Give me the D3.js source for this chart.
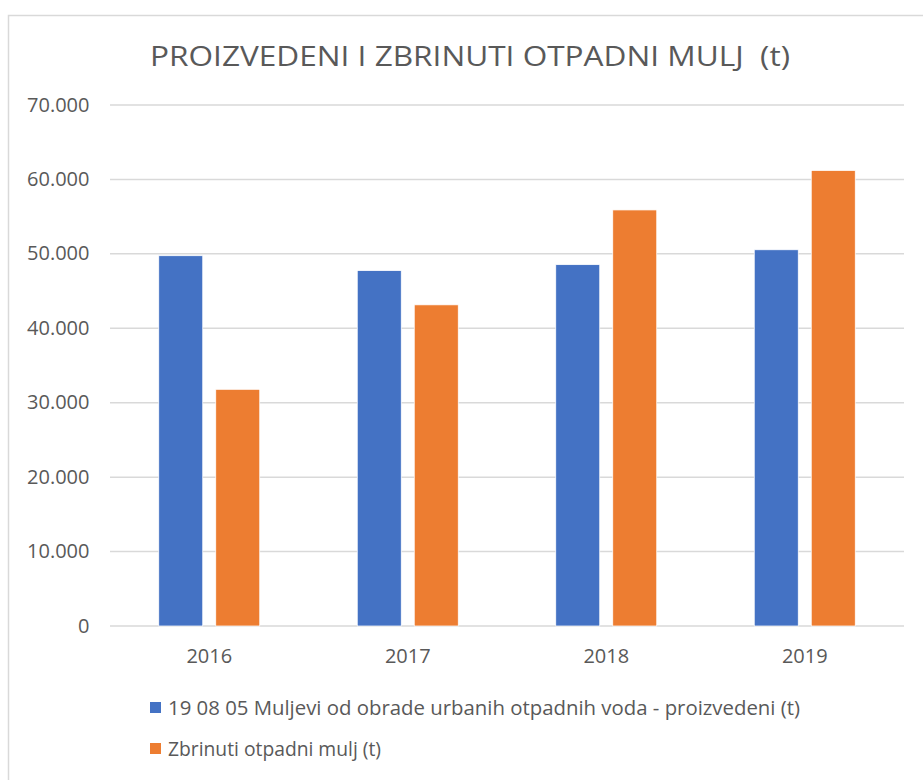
<!DOCTYPE html>
<html>
<head>
<meta charset="utf-8">
<script src="https://cdn.jsdelivr.net/npm/d3@7"></script>
<style>
  html, body { margin: 0; padding: 0; background: #fff; }
  svg text { font-family: "Open Sans", sans-serif; fill: #595959; white-space: pre; }
</style>
</head>
<body>
<svg id="chart" width="923" height="780"></svg>
<script>
// chart data
const years = ["2016", "2017", "2018", "2019"];
const seriesNames = [
  "19 08 05 Muljevi od obrade urbanih otpadnih voda - proizvedeni (t)",
  "Zbrinuti otpadni mulj (t)"
];
const produced = [49750, 47750, 48550, 50550];
const disposed = [31800, 43150, 55900, 61200];
const yTicks = [0, 10000, 20000, 30000, 40000, 50000, 60000, 70000];
const colors = ["#4472C4", "#ED7D31"];

let svg = d3.select("#chart");

// outer frame of the chart area
svg.append("rect")
   .attr("x", 8.5).attr("y", 15.5)
   .attr("width", 930).attr("height", 800)
   .attr("fill", "none")
   .attr("stroke", "#d9d9d9")
   .attr("stroke-width", 1.5);

let plotLeft = 110, plotRight = 904, plotTop = 105, plotBottom = 626;

let x = d3.scaleBand().domain(years).range([plotLeft, plotRight]);
let y = d3.scaleLinear().domain([0, 70000]).range([plotBottom, plotTop]);

// gridlines
svg.append("g")
   .selectAll("line")
   .data(yTicks)
   .enter()
   .append("line")
   .attr("x1", plotLeft).attr("x2", plotRight)
   .attr("y1", d => y(d)).attr("y2", d => y(d))
   .attr("stroke", "#d9d9d9")
   .attr("stroke-width", 1.5);

// y tick labels
let fmt = d => d === 0 ? "0" : d3.format(",")(d).replace(/,/g, ".");
svg.append("g")
   .selectAll("text")
   .data(yTicks)
   .enter()
   .append("text")
   .attr("x", 89.5)
   .attr("y", d => y(d) + 6.5)
   .attr("text-anchor", "end")
   .attr("font-size", "20px")
   .text(fmt);

// bars
let barW = 44, gap = 13;
let rows = years.map((yr, i) => ({ year: yr, vals: [produced[i], disposed[i]] }));
let groups = svg.append("g")
   .selectAll("g")
   .data(rows)
   .enter()
   .append("g");

groups.selectAll("rect")
   .data(d => d.vals.map((v, k) => ({ year: d.year, v: v, k: k })))
   .enter()
   .append("rect")
   .attr("x", d => x(d.year) + x.bandwidth() / 2 + (d.k === 0 ? -gap / 2 - barW : gap / 2))
   .attr("y", d => y(d.v))
   .attr("width", barW)
   .attr("height", d => plotBottom - y(d.v))
   .attr("fill", d => colors[d.k])
   .attr("stroke", "#fff")
   .attr("stroke-width", 0.75);

// x labels
svg.append("g")
   .selectAll("text")
   .data(years)
   .enter()
   .append("text")
   .attr("x", d => x(d) + x.bandwidth() / 2)
   .attr("y", 662.5)
   .attr("text-anchor", "middle")
   .attr("font-size", "20px")
   .text(d => d);

// title
svg.append("text")
   .attr("x", 470)
   .attr("y", 66)
   .attr("text-anchor", "middle")
   .attr("font-size", "27px")
   .attr("textLength", 640)
   .attr("lengthAdjust", "spacingAndGlyphs")
   .text("PROIZVEDENI I ZBRINUTI OTPADNI MULJ  (t)");

// legend
let legendY = [708, 749];
let legendW = [632, 213];
let legend = svg.append("g")
   .selectAll("g")
   .data(seriesNames)
   .enter()
   .append("g")
   .attr("transform", (d, i) => "translate(150," + legendY[i] + ")");

legend.append("rect")
   .attr("x", 0).attr("y", -6)
   .attr("width", 11).attr("height", 11)
   .attr("fill", (d, i) => colors[i]);

legend.append("text")
   .attr("x", 18)
   .attr("y", 7)
   .attr("font-size", "19.5px")
   .attr("textLength", (d, i) => legendW[i])
   .attr("lengthAdjust", "spacingAndGlyphs")
   .text(d => d);
</script>
</body>
</html>
